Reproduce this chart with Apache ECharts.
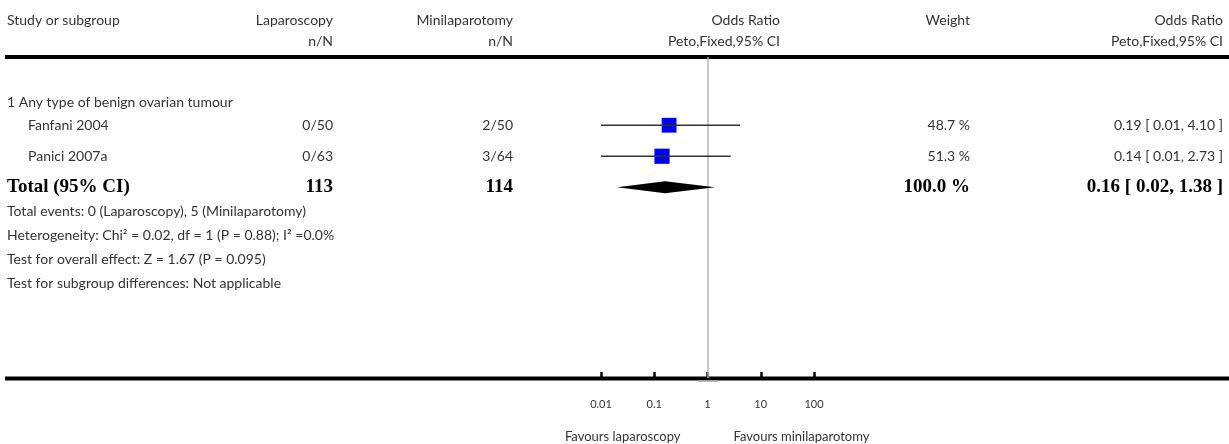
<!DOCTYPE html>
<html>
<head>
<meta charset="utf-8">
<script src="https://cdn.jsdelivr.net/npm/echarts@6/dist/echarts.min.js"></script>
<style>
  html, body { margin: 0; padding: 0; background: #fff; }
  #chart { width: 1229px; height: 444px; }
</style>
</head>
<body>
<div id="chart"></div>
<script>
// ---------- DATA ----------
const headerCols = ['Study or subgroup', 'Laparoscopy', 'Minilaparotomy', 'Odds Ratio', 'Weight', 'Odds Ratio'];
const headerSub = ['', 'n/N', 'n/N', 'Peto,Fixed,95% CI', '', 'Peto,Fixed,95% CI'];
const subgroupTitle = '1 Any type of benign ovarian tumour';
const studies = ['Fanfani 2004', 'Panici 2007a'];
const lapEvents = [0, 0];
const lapTotals = [50, 63];
const miniEvents = [2, 3];
const miniTotals = [50, 64];
const orEst = [0.19, 0.14];
const orLow = [0.01, 0.01];
const orHigh = [4.10, 2.73];
const weights = [48.7, 51.3];
const totalLabel = 'Total (95% CI)';
const totalCounts = [113, 114];
const totalOR = [0.16, 0.02, 1.38];   // estimate, low, high
const totalWeight = 100.0;
const footnotes = [
  'Total events: 0 (Laparoscopy), 5 (Minilaparotomy)',
  'Heterogeneity: Chi\u00B2 = 0.02, df = 1 (P = 0.88); I\u00B2 =0.0%',
  'Test for overall effect: Z = 1.67 (P = 0.095)',
  'Test for subgroup differences: Not applicable'
];
const tickValues = [0.01, 0.1, 1, 10, 100];
const tickLabels = ['0.01', '0.1', '1', '10', '100'];
const favoursLeft = 'Favours laparoscopy';
const favoursRight = 'Favours minilaparotomy';

// ---------- LAYOUT / STYLE ----------
const FONT = 'Lato, "Open Sans", sans-serif';
const BOLD_FONT = '"Liberation Serif", "DejaVu Serif", serif';
const TXT = '#333';
const studyRows = studies.map((_, i) => i + 1);
const totalRow = studies.length + 1;

const chart = echarts.init(document.getElementById('chart'), null, { renderer: 'canvas' });

const studyData = studies.map((s, i) => [orEst[i], orLow[i], orHigh[i], studyRows[i], weights[i]]);
const totalData = [[totalOR[0], totalOR[1], totalOR[2], totalRow]];

const option = {
  animation: false,
  backgroundColor: '#fff',
  grid: { left: 601, right: 415, top: 57, bottom: 66 },
  xAxis: {
    type: 'log',
    logBase: 10,
    position: 'bottom',
    min: tickValues[0],
    max: tickValues[tickValues.length - 1],
    axisLine: { show: false, onZero: false },
    splitLine: { show: false },
    axisTick: { show: true, inside: true, length: 6, lineStyle: { color: '#000', width: 2.5 } },
    axisLabel: {
      show: true, margin: 21, fontFamily: FONT, fontSize: 11, color: TXT,
      formatter: function (v) {
        const idx = tickValues.findIndex(t => Math.abs(Math.log10(t) - Math.log10(v)) < 1e-6);
        return idx >= 0 ? tickLabels[idx] : '';
      }
    }
  },
  yAxis: {
    type: 'value', inverse: true, min: -1.2, max: 9.15,
    show: false
  },
  series: [
    {
      type: 'custom',
      name: 'studies',
      data: studyData,
      encode: { x: [0, 1, 2], y: 3 },
      z: 5,
      renderItem: function (params, api) {
        const row = api.value(3);
        const pe = api.coord([api.value(0), row]);
        const pl = api.coord([api.value(1), row]);
        const ph = api.coord([api.value(2), row]);
        const s = 15 * Math.sqrt(api.value(4) / 50);
        return {
          type: 'group',
          children: [
            { type: 'rect', shape: { x: pe[0] - s / 2, y: pe[1] - s / 2, width: s, height: s }, style: { fill: '#0000ff' } },
            { type: 'line', shape: { x1: pl[0], y1: pl[1], x2: ph[0], y2: ph[1] }, style: { stroke: '#333', lineWidth: 1.5 } },
            { type: 'line', shape: { x1: pe[0], y1: pe[1] - 3, x2: pe[0], y2: pe[1] + 3 }, style: { stroke: '#222', lineWidth: 1 } }
          ]
        };
      }
    },
    {
      type: 'custom',
      name: 'total',
      data: totalData,
      encode: { x: [0, 1, 2], y: 3 },
      z: 5,
      renderItem: function (params, api) {
        const row = api.value(3);
        const pe = api.coord([api.value(0), row]);
        const pl = api.coord([api.value(1), row]);
        const ph = api.coord([api.value(2), row]);
        const h = 6;
        return {
          type: 'polygon',
          shape: { points: [[pl[0], pl[1]], [pe[0], pe[1] - h], [ph[0], ph[1]], [pe[0], pe[1] + h]] },
          style: { fill: '#000' }
        };
      }
    },
    {
      type: 'line',
      name: 'ref',
      data: [],
      markLine: {
        silent: true,
        symbol: 'none',
        label: { show: false },
        lineStyle: { color: '#b4b4b4', width: 1.5, type: 'solid' },
        data: [{ xAxis: 1 }]
      }
    }
  ]
};
chart.setOption(option);

// ---------- TABLE TEXT ----------
const colRight = [null, 333, 513, 780, 970, 1223];
const rowPix = studyRows.map(r => chart.convertToPixel({ gridIndex: 0 }, [1, r])[1]);
const totalPix = chart.convertToPixel({ gridIndex: 0 }, [1, totalRow])[1];
const onePix = chart.convertToPixel({ gridIndex: 0 }, [1, 0])[0];

function txt(text, x, y, align, opts) {
  opts = opts || {};
  return {
    type: 'text', silent: true, z: 10,
    x: x, y: y,
    style: {
      text: text, x: 0, y: 0,
      align: align || 'left', verticalAlign: 'middle',
      font: (opts.bold ? 'bold ' : '') + (opts.size || 14) + 'px ' + (opts.family || FONT),
      fill: opts.color || TXT
    }
  };
}

const els = [];
// header
els.push(txt(headerCols[0], 7, 20, 'left'));
for (let c = 1; c < headerCols.length; c++) {
  els.push(txt(headerCols[c], colRight[c], 20, 'right'));
  if (headerSub[c]) els.push(txt(headerSub[c], colRight[c], 41, 'right'));
}
// thick rules
els.push({ type: 'rect', silent: true, shape: { x: 5, y: 55, width: 1224, height: 4 }, style: { fill: '#000' } });
els.push({ type: 'rect', silent: true, shape: { x: 5, y: 376.5, width: 1224, height: 4 }, style: { fill: '#000' } });
els.push({ type: 'rect', silent: true, shape: { x: onePix - 10, y: 380.5, width: 21, height: 1.5 }, style: { fill: '#bbb' } });
// subgroup
els.push(txt(subgroupTitle, 7, 102, 'left'));
// studies
studies.forEach((s, i) => {
  const y = rowPix[i];
  els.push(txt(s, 28, y, 'left'));
  els.push(txt(lapEvents[i] + '/' + lapTotals[i], colRight[1], y, 'right'));
  els.push(txt(miniEvents[i] + '/' + miniTotals[i], colRight[2], y, 'right'));
  els.push(txt(weights[i].toFixed(1) + ' %', colRight[4], y, 'right'));
  els.push(txt(orEst[i].toFixed(2) + ' [ ' + orLow[i].toFixed(2) + ', ' + orHigh[i].toFixed(2) + ' ]', colRight[5], y, 'right'));
});
// total
const bopt = { bold: true, size: 19, family: BOLD_FONT, color: '#000' };
els.push(txt(totalLabel, 7, totalPix, 'left', bopt));
els.push(txt(String(totalCounts[0]), colRight[1], totalPix, 'right', bopt));
els.push(txt(String(totalCounts[1]), colRight[2], totalPix, 'right', bopt));
els.push(txt(totalWeight.toFixed(1) + ' %', colRight[4], totalPix, 'right', bopt));
els.push(txt(totalOR[0].toFixed(2) + ' [ ' + totalOR[1].toFixed(2) + ', ' + totalOR[2].toFixed(2) + ' ]', colRight[5], totalPix, 'right', bopt));
// footnotes
footnotes.forEach((f, i) => els.push(txt(f, 7, 211 + i * 24, 'left')));
// favours
els.push(txt(favoursLeft, onePix - 27, 437, 'right', { size: 13 }));
els.push(txt(favoursRight, onePix + 26, 437, 'left', { size: 13 }));

chart.setOption({ graphic: { elements: els } });
</script>
</body>
</html>
